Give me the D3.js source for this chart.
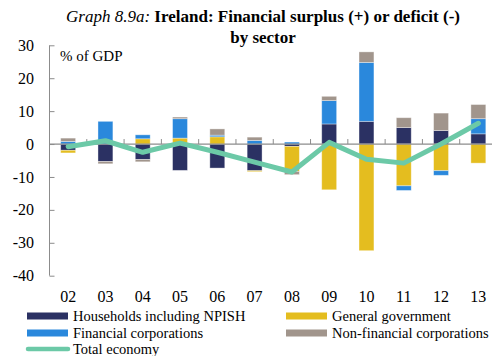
<!DOCTYPE html>
<html>
<head>
<meta charset="utf-8">
<script src="https://cdn.jsdelivr.net/npm/d3@7"></script>
<style>
  html, body { margin: 0; padding: 0; background: #fff; }
  svg { display: block; }
  text { font-family: "Liberation Serif", "Times New Roman", serif; fill: #000; }
</style>
</head>
<body>
<svg id="chart" width="492" height="356"></svg>
<script>
// Years (two-digit labels) on the category axis
const years = ["02", "03", "04", "05", "06", "07", "08", "09", "10", "11", "12", "13"];

// Net lending (+) / borrowing (-) by sector, % of GDP
const households = [-1.9, -5.3, -4.7, -8.0, -7.3, -8.1, -0.7, 6.1, 6.9, 5.0, 4.1, 3.1];
const government = [-0.8, 0.0, 1.6, 1.8, 2.2, -0.3, -7.6, -13.9, -32.4, -12.7, -8.1, -5.8];
const financial  = [0.8, 6.9, 1.2, 5.9, 0.5, 1.1, 0.6, 7.1, 17.9, -1.4, -1.4, 4.6];
const nonFinancial = [1.0, -0.7, -0.7, 0.5, 1.9, 1.0, -1.0, 1.3, 3.2, 3.0, 5.3, 4.3];
const totalEconomy = [-0.8, 1.0, -2.5, 0.3, -2.5, -5.5, -8.5, 0.5, -4.6, -5.8, 0.0, 6.3];

const yTicks = [30, 20, 10, 0, -10, -20, -30, -40];

const seriesKeys = ["hh", "gov", "fin", "nfc"];
const seriesNames = {
  hh: "Households including NPISH",
  gov: "General government",
  fin: "Financial corporations",
  nfc: "Non-financial corporations"
};
const colors = { hh: "#2b3163", gov: "#e4bd1f", fin: "#2a88dc", nfc: "#a1958c", total: "#6cc9a7" };

const rows = years.map((y, i) => ({
  year: y,
  hh: households[i],
  gov: government[i],
  fin: financial[i],
  nfc: nonFinancial[i],
  total: totalEconomy[i]
}));

const svg = d3.select("#chart");

// Title
const title = svg.append("text")
  .attr("x", 263).attr("y", 22)
  .attr("text-anchor", "middle")
  .style("font-size", "17px");
title.append("tspan").style("font-style", "italic").text("Graph 8.9a: ");
title.append("tspan").style("font-weight", "bold").text("Ireland: Financial surplus (+) or deficit (-)");
svg.append("text")
  .attr("x", 263).attr("y", 43)
  .attr("text-anchor", "middle")
  .style("font-size", "17px").style("font-weight", "bold")
  .text("by sector");

// Scales
const axisX = 49.5;
const x = d3.scaleBand().domain(years).range([axisX, 497]).paddingInner(0.6).paddingOuter(0.3);
const y = d3.scaleLinear().domain([-40, 30]).range([275.7, 45.3]);

// Y axis: line on the left, ticks pointing into the plot
const yAxis = svg.append("g").attr("transform", `translate(${axisX},0)`)
  .call(d3.axisRight(y).tickValues(yTicks).tickSize(5).tickFormat(""));
yAxis.select(".domain").attr("stroke", "#8c8c8c").attr("d", `M0,${y(30)}V${y(-40)}`);
yAxis.selectAll(".tick line").attr("stroke", "#8c8c8c");

svg.append("g").selectAll("text")
  .data(yTicks).join("text")
  .attr("x", 34).attr("y", d => y(d))
  .attr("dy", "0.35em")
  .attr("text-anchor", "end")
  .style("font-size", "16px")
  .text(d => d);

svg.append("text")
  .attr("x", 60).attr("y", 61)
  .style("font-size", "15px")
  .text("% of GDP");

// Stacked bars, positives up and negatives down from zero
const stacked = d3.stack().keys(seriesKeys).offset(d3.stackOffsetDiverging)(rows);

svg.append("g").selectAll("g")
  .data(stacked).join("g")
  .attr("fill", d => colors[d.key])
  .selectAll("rect")
  .data(d => d.map(p => ({ p, year: p.data.year })))
  .join("rect")
  .attr("x", d => x(d.year))
  .attr("width", x.bandwidth())
  .attr("y", d => y(Math.max(d.p[0], d.p[1])))
  .attr("height", d => Math.abs(y(d.p[0]) - y(d.p[1])))
  .attr("stroke", "#ffffff")
  .attr("stroke-opacity", 0.45)
  .attr("stroke-width", 0.8);

// Zero line with category ticks pointing up
const xAxis = svg.append("g").attr("transform", `translate(0,${y(0)})`);
xAxis.append("line")
  .attr("x1", axisX).attr("x2", 492)
  .attr("stroke", "#8c8c8c").attr("stroke-width", 1.2);
xAxis.selectAll(".boundary")
  .data(years.slice(1)).join("line")
  .attr("class", "boundary")
  .attr("x1", d => x(d) - x.step() * x.paddingInner() / 2)
  .attr("x2", d => x(d) - x.step() * x.paddingInner() / 2)
  .attr("y1", 0).attr("y2", -5)
  .attr("stroke", "#8c8c8c");

// Category labels
svg.append("g").selectAll("text")
  .data(years).join("text")
  .attr("x", d => x(d) + x.bandwidth() / 2)
  .attr("y", 302)
  .attr("text-anchor", "middle")
  .style("font-size", "16px")
  .text(d => d);

// Total economy line
const line = d3.line()
  .x(d => x(d.year) + x.bandwidth() / 2)
  .y(d => y(d.total));
svg.append("path")
  .datum(rows)
  .attr("d", line)
  .attr("fill", "none")
  .attr("stroke", colors.total)
  .attr("stroke-width", 5)
  .attr("stroke-linejoin", "round")
  .attr("stroke-linecap", "round");

// Legend
const legendItems = [
  { key: "hh", x: 27, y: 316 },
  { key: "gov", x: 286, y: 316 },
  { key: "fin", x: 27, y: 333 },
  { key: "nfc", x: 286, y: 333 }
];
const legend = svg.append("g");
legendItems.forEach(it => {
  legend.append("rect")
    .attr("x", it.x).attr("y", it.y - 3.5)
    .attr("width", 41).attr("height", 7)
    .attr("fill", colors[it.key]);
  legend.append("text")
    .attr("x", it.x + 46).attr("y", it.y)
    .attr("dy", "0.35em")
    .style("font-size", "14.5px")
    .text(seriesNames[it.key]);
});
legend.append("line")
  .attr("x1", 28).attr("x2", 68)
  .attr("y1", 349).attr("y2", 349)
  .attr("stroke", colors.total).attr("stroke-width", 4.5)
  .attr("stroke-linecap", "round");
legend.append("text")
  .attr("x", 73).attr("y", 349)
  .attr("dy", "0.35em")
  .style("font-size", "14.5px")
  .text("Total economy");
</script>
</body>
</html>
